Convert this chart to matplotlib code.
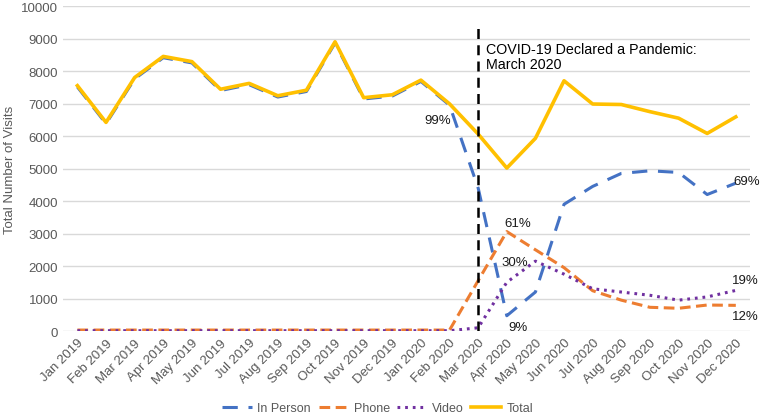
import matplotlib
matplotlib.use("Agg")
import matplotlib.pyplot as plt

plt.rcParams['font.family'] = ['Liberation Sans', 'DejaVu Sans']

months = ["Jan 2019", "Feb 2019", "Mar 2019", "Apr 2019", "May 2019", "Jun 2019",
          "Jul 2019", "Aug 2019", "Sep 2019", "Oct 2019", "Nov 2019", "Dec 2019",
          "Jan 2020", "Feb 2020", "Mar 2020", "Apr 2020", "May 2020", "Jun 2020",
          "Jul 2020", "Aug 2020", "Sep 2020", "Oct 2020", "Nov 2020", "Dec 2020"]

total = [7550, 6420, 7800, 8450, 8290, 7440, 7620, 7240, 7410, 8900, 7180, 7270,
         7720, 6990, 6060, 5015, 5930, 7700, 6985, 6970, 6750, 6550, 6080, 6590]
in_person = [7510, 6380, 7760, 8410, 8250, 7400, 7580, 7200, 7370, 8860, 7140, 7230,
             7680, 6950, 4400, 470, 1200, 3900, 4450, 4850, 4930, 4880, 4200, 4550]
phone = [30, 30, 30, 30, 30, 30, 30, 30, 30, 30, 30, 30,
         30, 30, 1550, 3060, 2500, 1950, 1240, 950, 730, 700, 800, 790]
video = [10, 10, 10, 10, 10, 10, 10, 10, 10, 10, 10, 10,
         10, 10, 100, 1500, 2150, 1750, 1300, 1200, 1100, 950, 1050, 1250]

yticks = list(range(0, 10001, 1000))

fig = plt.figure(figsize=(7.6, 4.14), dpi=100)
ax = fig.add_axes([0.083, 0.198, 0.904, 0.785])

x = list(range(len(months)))
ax.plot(x, in_person, color="#4472C4", lw=2.2, dashes=(5, 3.5), label="In Person", zorder=3)
ax.plot(x, phone, color="#ED7D31", lw=2.2, dashes=(3.5, 1.8), label="Phone", zorder=3)
ax.plot(x, video, color="#7030A0", lw=2.2, dashes=(0.9, 1.6), label="Video", zorder=3)
ax.plot(x, total, color="#FFC000", lw=2.6, label="Total", zorder=4)

ax.plot([14, 14], [0, 9450], color="black", lw=1.8, dashes=(4, 2.5), zorder=5)
ax.text(14.28, 8900, "COVID-19 Declared a Pandemic:\nMarch 2020", fontsize=10.3,
        va="top", ha="left", linespacing=1.1)

lab = dict(fontsize=9.5, ha="center", va="center", color="#1a1a1a", zorder=6)
ax.text(12.59, 6490, "99%", **lab)
ax.text(23.39, 4615, "69%", **lab)
ax.text(15.38, 3320, "61%", **lab)
ax.text(15.28, 2120, "30%", **lab)
ax.text(15.38, 120, "9%", **lab)
ax.text(23.32, 1570, "19%", **lab)
ax.text(23.32, 460, "12%", **lab)

ax.set_xlim(-0.5, 23.5)
ax.set_ylim(0, 10000)
ax.set_yticks(yticks)
ax.set_xticks(x)
ax.set_xticklabels(months, rotation=45, ha="right", rotation_mode="anchor")
ax.tick_params(axis="both", length=0, labelsize=9.5, colors="#595959")
ax.tick_params(axis="x", pad=4)
ax.grid(axis="y", color="#d9d9d9", lw=1)
ax.set_axisbelow(True)
for s in ax.spines.values():
    s.set_visible(False)
ax.set_ylabel("Total Number of Visits", fontsize=9.5, color="#595959", labelpad=4)

ax.legend(loc="lower center", bbox_to_anchor=(0.458, -0.29), ncol=4, frameon=False,
          fontsize=9, handlelength=2.4, columnspacing=0.6, handletextpad=0.4,
          labelcolor="#595959")

fig.savefig("out.png", dpi=100)
